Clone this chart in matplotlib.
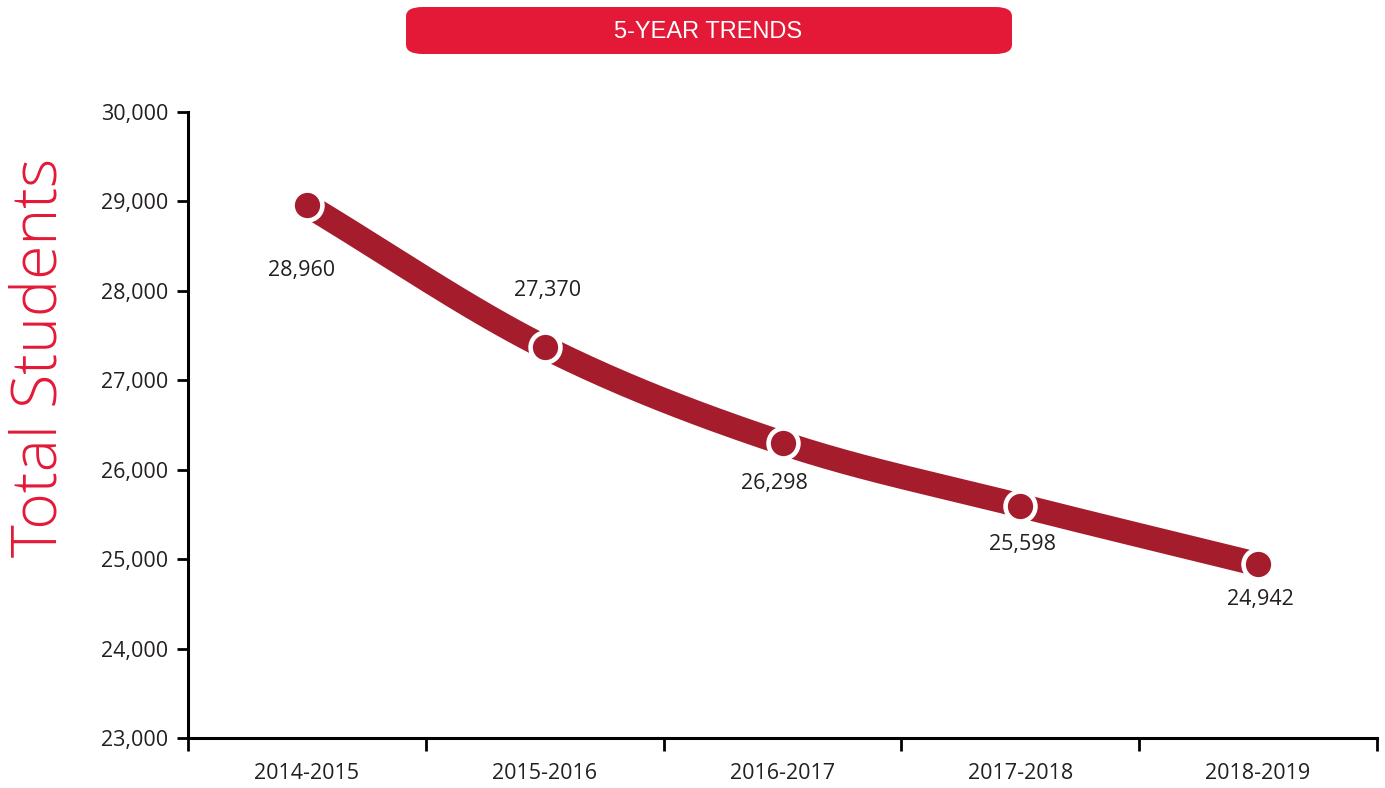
import numpy as np
import matplotlib.pyplot as plt
from matplotlib.patches import FancyBboxPatch

years = ["2014-2015", "2015-2016", "2016-2017", "2017-2018", "2018-2019"]
students = [28960, 27370, 26298, 25598, 24942]
label_offsets = [-65, 57, -40, -39, -35]   # px, label below (-) / above (+) the point
label_dx = [-5, 3, -8, 2, 2]
yticks = [23000, 24000, 25000, 26000, 27000, 28000, 29000, 30000]

line_red = "#A51D2D"
bright_red = "#E31937"

plt.rcParams['font.family'] = ['Open Sans', 'DejaVu Sans']

fig = plt.figure(figsize=(13.85, 7.88), dpi=100)
ax = fig.add_axes([188/1385, 50/788, 1189/1385, 626/788])

x = np.arange(len(years))
y = np.array(students, dtype=float)

# smooth curve through points (Catmull-Rom)
px = np.concatenate([[2*x[0]-x[1]], x, [2*x[-1]-x[-2]]])
py = np.concatenate([[2*y[0]-y[1]], y, [2*y[-1]-y[-2]]])
sx, sy = [], []
for i in range(1, len(px)-2):
    t = np.linspace(0, 1, 40)
    for arr, out in ((px, sx), (py, sy)):
        p0, p1, p2, p3 = arr[i-1], arr[i], arr[i+1], arr[i+2]
        out.extend(0.5*((2*p1) + (-p0+p2)*t + (2*p0-5*p1+4*p2-p3)*t**2
                        + (-p0+3*p1-3*p2+p3)*t**3))
ax.plot(sx, sy, color=line_red, lw=17.5, solid_capstyle='butt', zorder=2)
ax.plot(x, y, 'o', ms=21.5, mfc=line_red, mec='white', mew=3.3, zorder=3)

for xi, yi, dy, dx in zip(x, y, label_offsets, label_dx):
    ax.annotate(f"{int(yi):,}", (xi, yi), xytext=(dx*0.72, dy*0.72),
                textcoords='offset points', ha='center', va='center',
                fontsize=15.5, color='#231F20')

ax.set_xlim(-0.5, 4.5)
ax.set_ylim(23000, 30000)
ax.set_yticks(yticks)
ax.set_yticklabels([f"{v:,}" for v in yticks])
ax.set_xticks(np.arange(-0.5, 5, 1))
ax.set_xticklabels([])
ax.set_xticks(x, minor=True)
ax.set_xticklabels(years, minor=True)
ax.tick_params(axis='x', which='minor', length=0, pad=18, labelsize=15.5, labelcolor='#231F20')
ax.tick_params(axis='x', which='major', length=9, width=2, direction='out')
ax.tick_params(axis='y', length=8, width=2, labelsize=15.5, labelcolor='#231F20', pad=6)
for s in ['top', 'right']:
    ax.spines[s].set_visible(False)
for s in ['left', 'bottom']:
    ax.spines[s].set_linewidth(2.2)

fig.text(40/1385, 1 - 357/788, "Total Students", rotation=90, ha='center', va='center',
         fontsize=45, color=bright_red, fontweight='light')

box = FancyBboxPatch((406/1385, 1 - 54/788), 606/1385, 47/788,
                     boxstyle="round,pad=0,rounding_size=0.012",
                     transform=fig.transFigure, facecolor=bright_red, edgecolor='none')
fig.patches.append(box)
fig.text(708/1385, 1 - 32/788, "5-YEAR TRENDS", ha='center', va='center', color='white',
         fontsize=17, family=['Liberation Sans Narrow', 'Liberation Sans', 'DejaVu Sans'])

fig.savefig("out.png", dpi=100)
